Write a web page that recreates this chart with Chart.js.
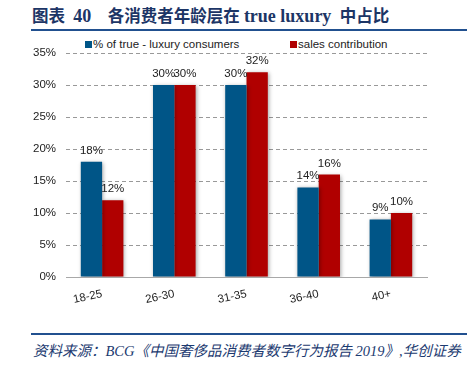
<!DOCTYPE html>
<html>
<head>
<meta charset="utf-8">
<script src="https://cdn.jsdelivr.net/npm/chart.js@4.4.1/dist/chart.umd.min.js"></script>
<style>
  body { margin: 0; width: 473px; height: 367px; background: #fff; position: relative; overflow: hidden; }
  #title { position: absolute; left: 32px; top: 3px; font: bold 16.5px "Liberation Serif", "Noto Sans CJK SC", serif; color: #1c3566; white-space: pre; }
  #title b { font-size: 18px; }
  .rule { position: absolute; left: 31px; width: 436px; height: 2px; background: #21508f; }
  #source { position: absolute; left: 33px; top: 339px; font: italic 14.5px "Liberation Serif", "Noto Sans CJK SC", serif; color: #1c3a70; white-space: pre; }
  #legend { position: absolute; top: 38px; left: 0; font: 11.5px "Liberation Sans", Arial, sans-serif; color: #222; }
  #legend span { position: absolute; white-space: pre; }
  #legend i { position: absolute; width: 7px; height: 7px; }
  #wrap { position: absolute; left: 0; top: 36px; width: 473px; height: 271px; }
</style>
</head>
<body>
<div id="title">图表  <b>40</b>    各消费者年龄层在 <b>true luxury</b>  中占比</div>
<div class="rule" style="top:29px"></div>
<div id="legend">
  <i style="left:85px;top:3px;background:#005587"></i><span style="left:93px;top:0">% of true - luxury consumers</span>
  <i style="left:290px;top:3px;background:#b00000"></i><span style="left:298px;top:0">sales contribution</span>
</div>
<div id="wrap"><canvas id="myChart"></canvas></div>
<div class="rule" style="top:333px"></div>
<div id="source">资料来源：BCG《中国奢侈品消费者数字行为报告 2019》,华创证券</div>
<script>
var ageGroups = ["18-25", "26-30", "31-35", "36-40", "40+"];
var consumerShare = [18, 30, 30, 14, 9];
var salesShare = [12, 30, 32, 16, 10];
var yTicks = [0, 5, 10, 15, 20, 25, 30, 35];

var labelFont = '11.5px "Liberation Sans", Arial, sans-serif';

// soft shadow behind the bars
var barShadow = {
  id: 'barShadow',
  beforeDatasetsDraw: function(chart) {
    var ctx = chart.ctx;
    ctx.save();
    ctx.shadowColor = 'rgba(0,0,0,0.35)';
    ctx.shadowBlur = 4;
    ctx.shadowOffsetX = 1;
    ctx.shadowOffsetY = 1;
  },
  afterDatasetsDraw: function(chart) {
    chart.ctx.restore();
  }
};

// value labels above bars
var valueLabels = {
  id: 'valueLabels',
  afterDraw: function(chart) {
    var ctx = chart.ctx;
    ctx.save();
    ctx.font = labelFont;
    ctx.fillStyle = '#222';
    ctx.textAlign = 'center';
    ctx.textBaseline = 'alphabetic';
    chart.data.datasets.forEach(function(ds, i) {
      var meta = chart.getDatasetMeta(i);
      meta.data.forEach(function(bar, j) {
        ctx.fillText(ds.data[j] + '%', bar.x, bar.y - 8);
      });
    });
    ctx.restore();
  }
};

var ctx = document.getElementById('myChart').getContext('2d');
var chart = new Chart(ctx, {
  type: 'bar',
  data: {
    labels: ageGroups,
    datasets: [
      { label: '% of true - luxury consumers', data: consumerShare, backgroundColor: '#005587' },
      { label: 'sales contribution', data: salesShare, backgroundColor: '#b00000' }
    ]
  },
  options: {
    responsive: true,
    maintainAspectRatio: false,
    animation: false,
    layout: { padding: { left: 0, right: 46, top: 17, bottom: 0 } },
    datasets: { bar: { categoryPercentage: 0.59, barPercentage: 1.0 } },
    plugins: { legend: { display: false }, tooltip: { enabled: false } },
    scales: {
      x: {
        grid: { display: false },
        border: { display: true, color: '#a8a8a8', width: 1 },
        ticks: { font: { family: '"Liberation Sans", Arial, sans-serif', size: 11.5 }, color: '#222', minRotation: 12, maxRotation: 12, padding: 2 },
        afterFit: function(axis) { axis.height = 30; }
      },
      y: {
        min: 0, max: 35,
        afterBuildTicks: function(axis) { axis.ticks = yTicks.map(function(v) { return { value: v }; }); },
        grid: { color: '#999', lineWidth: 1, drawTicks: false },
        border: { display: false, dash: [4, 3] },
        ticks: { font: { family: '"Liberation Sans", Arial, sans-serif', size: 11.5 }, color: '#222', padding: 10,
          callback: function(v) { return v + '%'; } },
        afterFit: function(axis) { axis.width = 66; }
      }
    }
  },
  plugins: [barShadow, valueLabels]
});
</script>
</body>
</html>
